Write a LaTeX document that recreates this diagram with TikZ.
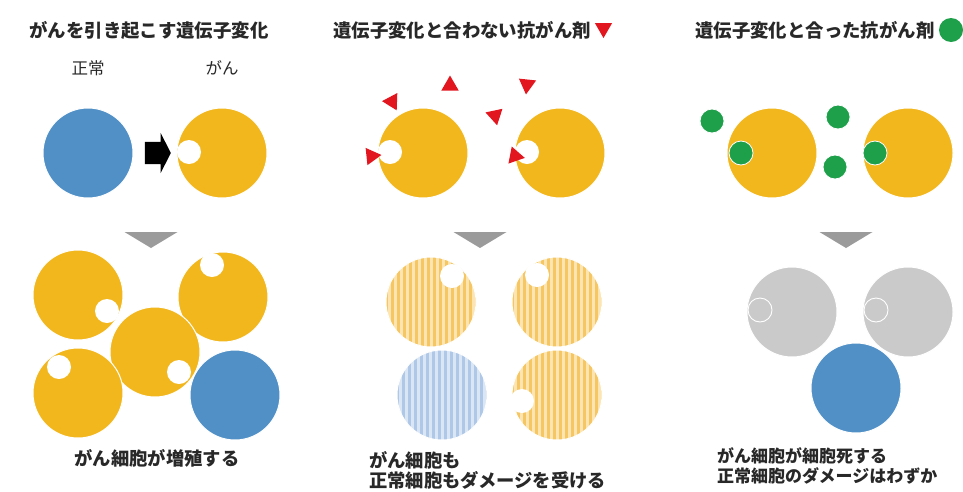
\documentclass[tikz,border=0pt]{standalone}
\usepackage{fontspec}
\newfontfamily\jp{Noto Sans CJK JP}
\usetikzlibrary{shapes.geometric,shapes.arrows}

\definecolor{ink}{RGB}{40,40,40}
\definecolor{normalblue}{RGB}{80,144,199}
\definecolor{canceryellow}{RGB}{243,183,30}
\definecolor{drugred}{RGB}{226,22,30}
\definecolor{druggreen}{RGB}{30,160,75}
\definecolor{stepgray}{RGB}{155,155,155}
\definecolor{deadgray}{RGB}{202,202,202}
\definecolor{stripeY}{RGB}{245,198,98}
\definecolor{stripeYlight}{RGB}{252,229,178}
\definecolor{stripeB}{RGB}{176,200,232}
\definecolor{stripeBlight}{RGB}{219,230,245}

\begin{document}
\begin{tikzpicture}[x=1pt,y=-1pt,
  cell/.style={circle, minimum size=90pt, inner sep=0pt, draw=white, line width=1pt},
  yellowcell/.style={cell, fill=canceryellow},
  bluecell/.style={cell, fill=normalblue},
  graycell/.style={cell, fill=deadgray},
  hole/.style={circle, fill=white, minimum size=24pt, inner sep=0pt},
  ghosthole/.style={circle, draw=white, line width=0.9pt, minimum size=24pt, inner sep=0pt},
  redpill/.style={regular polygon, regular polygon sides=3, fill=drugred, minimum size=20pt, inner sep=0pt},
  greenpill/.style={circle, fill=druggreen, minimum size=24pt, inner sep=0pt, draw=white, line width=0.8pt},
  stripedcell/.style n args={2}{cell, fill=#1, path picture={
      \foreach \k in {-8,...,8}
        \fill[#2] ([xshift=\k*6pt-1.5pt]path picture bounding box.north)
          rectangle ([xshift=\k*6pt+1.5pt]path picture bounding box.south);}},
  ystriped/.style={stripedcell={stripeY}{stripeYlight}},
  bstriped/.style={stripedcell={stripeB}{stripeBlight}},
  heading/.style={font=\jp\bfseries\fontsize{18.4}{21}\selectfont, text=ink, inner sep=0pt},
  sublabel/.style={font=\jp\fontsize{16.5}{19}\selectfont, text=ink, inner sep=0pt},
  caption/.style={font=\jp\bfseries\fontsize{18.3}{20.5}\selectfont, text=ink, inner sep=0pt, align=left},
  stepdown/.style={fill=stepgray}
]
\useasboundingbox (0,0) rectangle (963,491);

% ---------- panel 1: mutation turns a normal cell into a cancer cell ----------
\node[heading] (t1) at (149,30) {がんを引き起こす遺伝子変化};
\node[sublabel] (l1a) at (88,68) {正常};
\node[sublabel] (l1b) at (222,68) {がん};
\node[bluecell] (n1) at (88,153) {};
\node[yellowcell] (c1) at (222,153) {};
\node[hole] (c1h) at (189,152) {};
\node[single arrow, fill=black, inner sep=0pt, inner ysep=11pt, minimum height=26pt,
      single arrow head extend=9pt, single arrow tip angle=126] (ar1) at (155,153) {};
\coordinate (d1) at (151,240);
\fill[stepdown] (d1) ++(-26.5,-8) -- ++(53,0) -- ++(-26.5,16) -- cycle;

\node[yellowcell] (pA) at (78,295) {};
\node[hole] (pAh) at (107,311) {};
\node[yellowcell] (pB) at (223,297) {};
\node[hole] (pBh) at (212,265) {};
\node[yellowcell] (pC) at (155,352) {};
\node[hole] (pCh) at (179,372) {};
\node[yellowcell] (pD) at (78,393) {};
\node[hole] (pDh) at (59,367) {};
\node[bluecell] (pE) at (235,395) {};
\node[caption] (cap1) at (157,458) {がん細胞が増殖する};

% ---------- panel 2: drug that does not fit the mutation ----------
\node[heading, anchor=west] (t2) at (333,30) {遺伝子変化と合わない抗がん剤};
\node[redpill, rotate=180] (t2m) at (603.5,28) {};
\node[yellowcell] (c2a) at (423,153) {};
\node[hole] (c2ah) at (390,152) {};
\node[yellowcell] (c2b) at (560,153) {};
\node[hole] (c2bh) at (527,152) {};
\node[redpill, rotate=88] (r1) at (392,101.5) {};
\node[redpill] (r2) at (450,85.5) {};
\node[redpill, rotate=174] (r3) at (527,84.5) {};
\node[redpill, rotate=192] (r4) at (495,115.5) {};
\node[redpill, rotate=-84] (r5) at (371.5,156) {};
\node[redpill, rotate=-101] (r6) at (515,156) {};
\coordinate (d2) at (480,240);
\fill[stepdown] (d2) ++(-26.5,-8) -- ++(53,0) -- ++(-26.5,16) -- cycle;

\node[ystriped] (s1) at (431,302) {};
\node[hole] (s1h) at (452,276) {};
\node[ystriped] (s2) at (557,302) {};
\node[hole] (s2h) at (537,275) {};
\node[bstriped] (s3) at (442,395) {};
\node[ystriped] (s4) at (557,395) {};
\node[hole] (s4h) at (522,401) {};
\node[caption, anchor=north west] (cap2) at (369,451) {がん細胞も\\正常細胞もダメージを受ける};

% ---------- panel 3: drug that fits the mutation ----------
\node[heading, anchor=west] (t3) at (695,30) {遺伝子変化と合った抗がん剤};
\node[greenpill, draw=none] (t3m) at (951,30) {};
\node[yellowcell] (c3a) at (772,153) {};
\node[yellowcell] (c3b) at (908,153) {};
\node[greenpill] (g1) at (712,121) {};
\node[greenpill] (g2) at (741,153) {};
\node[greenpill] (g3) at (838,117) {};
\node[greenpill] (g4) at (835,167) {};
\node[greenpill] (g5) at (875,153) {};
\coordinate (d3) at (846,240);
\fill[stepdown] (d3) ++(-26.5,-8) -- ++(53,0) -- ++(-26.5,16) -- cycle;

\node[graycell] (k1) at (792,312) {};
\node[ghosthole] (k1h) at (760,310) {};
\node[graycell] (k2) at (908,312) {};
\node[ghosthole] (k2h) at (876,310) {};
\node[bluecell] (k3) at (856,388) {};
\node[caption, anchor=north west, font=\jp\bfseries\fontsize{17}{20.5}\selectfont] (cap3) at (717,447) {がん細胞が細胞死する\\正常細胞のダメージはわずか};
\end{tikzpicture}
\end{document}
